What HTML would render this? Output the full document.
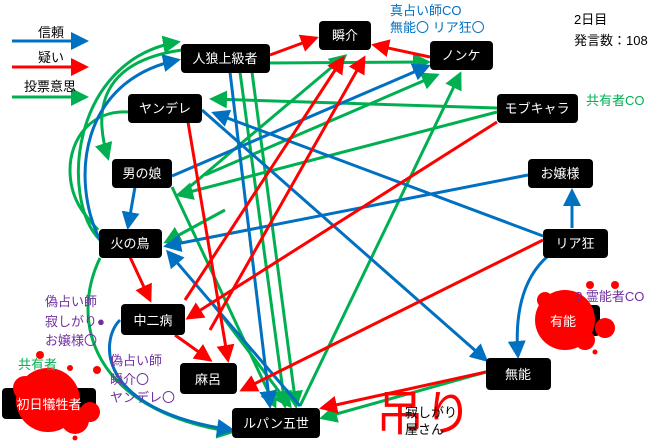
<!DOCTYPE html>
<html><head><meta charset="utf-8"><style>
body{margin:0;width:660px;height:444px;background:#fff;overflow:hidden;font-family:"Liberation Sans","Noto Sans CJK JP",sans-serif}
svg{position:absolute;left:0;top:0}
text{font-family:"Liberation Sans","Noto Sans CJK JP",sans-serif}
</style></head><body>
<svg width="660" height="444" viewBox="0 0 660 444">
<defs>
<marker id="b" markerWidth="6" markerHeight="6" refX="5" refY="3" orient="auto" markerUnits="strokeWidth"><path d="M0,0L6,3L0,6z" fill="#0070c0"/></marker>
<marker id="r" markerWidth="6" markerHeight="6" refX="5" refY="3" orient="auto" markerUnits="strokeWidth"><path d="M0,0L6,3L0,6z" fill="#ff0000"/></marker>
<marker id="g" markerWidth="6" markerHeight="6" refX="5" refY="3" orient="auto" markerUnits="strokeWidth"><path d="M0,0L6,3L0,6z" fill="#00b050"/></marker>
</defs>
<g fill="none" stroke-width="3">
<!-- legend -->
<line x1="12" y1="41" x2="86" y2="41" stroke="#0070c0" marker-end="url(#b)"/>
<line x1="12" y1="67" x2="86" y2="67" stroke="#f00" marker-end="url(#r)"/>
<line x1="12" y1="97" x2="86" y2="97" stroke="#00b050" marker-end="url(#g)"/>
<!-- green -->
<g stroke="#00b050">
<line x1="270" y1="63" x2="428" y2="62" marker-end="url(#g)"/>
<line x1="497" y1="108" x2="212" y2="99" marker-end="url(#g)"/>
<line x1="497" y1="112" x2="178" y2="195" marker-end="url(#g)"/>
<line x1="240" y1="72" x2="285" y2="406" marker-end="url(#g)"/>
<line x1="252" y1="72" x2="296" y2="406" marker-end="url(#g)"/>
<line x1="180" y1="195" x2="345" y2="56" marker-end="url(#g)"/>
<line x1="300" y1="406" x2="460" y2="74" marker-end="url(#g)"/>
<line x1="205" y1="175" x2="437" y2="75" marker-end="url(#g)"/>
<line x1="486" y1="372" x2="322" y2="418" marker-end="url(#g)"/>
<line x1="172" y1="187" x2="275" y2="406" marker-end="url(#g)"/>
<line x1="225" y1="210" x2="166" y2="242" marker-end="url(#g)"/>
<path d="M100,240 C60,200 70,60 178,42" marker-end="url(#g)"/>
<path d="M182,50 C110,60 90,100 108,158" marker-end="url(#g)"/>
<path d="M128,112 C90,110 70,140 70,170 C70,200 85,215 98,230"/>
<path d="M100,258 C70,320 90,410 232,432" marker-end="url(#g)"/>
<line x1="210" y1="300" x2="290" y2="406" marker-end="url(#g)"/>
</g>
<!-- blue -->
<g stroke="#0070c0">
<line x1="230" y1="72" x2="270" y2="406" marker-end="url(#b)"/>
<line x1="172" y1="176" x2="428" y2="66" marker-end="url(#b)"/>
<line x1="202" y1="110" x2="486" y2="360" marker-end="url(#b)"/>
<line x1="543" y1="236" x2="214" y2="113" marker-end="url(#b)"/>
<line x1="528" y1="175" x2="166" y2="246" marker-end="url(#b)"/>
<line x1="572" y1="228" x2="572" y2="191" marker-end="url(#b)"/>
<path d="M548,256 C520,280 515,320 518,356" marker-end="url(#b)"/>
<line x1="135" y1="187" x2="128" y2="227" marker-end="url(#b)"/>
<path d="M100,240 C70,180 80,80 178,60" marker-end="url(#b)"/>
<path d="M120,320 C100,340 95,410 232,430" marker-end="url(#b)"/>
<line x1="300" y1="406" x2="168" y2="252" marker-end="url(#b)"/>
</g>
<!-- red -->
<g stroke="#f00">
<line x1="270" y1="55" x2="316" y2="38" marker-end="url(#r)"/>
<line x1="430" y1="57" x2="374" y2="45" marker-end="url(#r)"/>
<line x1="188" y1="122" x2="228" y2="360" marker-end="url(#r)"/>
<line x1="185" y1="300" x2="343" y2="58" marker-end="url(#r)"/>
<line x1="210" y1="330" x2="364" y2="58" marker-end="url(#r)"/>
<line x1="497" y1="122" x2="188" y2="318" marker-end="url(#r)"/>
<line x1="543" y1="240" x2="242" y2="390" marker-end="url(#r)"/>
<line x1="130" y1="257" x2="150" y2="300" marker-end="url(#r)"/>
<line x1="175" y1="335" x2="210" y2="360" marker-end="url(#r)"/>
<line x1="486" y1="372" x2="322" y2="408" marker-end="url(#r)"/>
</g>
</g>
<!-- nodes -->
<g fill="#000">
<rect x="181" y="44" width="89" height="29" rx="4"/>
<rect x="319" y="21" width="52" height="29" rx="4"/>
<rect x="430" y="41" width="63" height="29" rx="4"/>
<rect x="128" y="94" width="74" height="29" rx="4"/>
<rect x="497" y="94" width="81" height="29" rx="4"/>
<rect x="112" y="159" width="60" height="29" rx="4"/>
<rect x="528" y="159" width="65" height="29" rx="4"/>
<rect x="99" y="229" width="63" height="29" rx="4"/>
<rect x="543" y="229" width="65" height="29" rx="4"/>
<rect x="121" y="304" width="64" height="31" rx="4"/>
<rect x="180" y="363" width="57" height="31" rx="4"/>
<rect x="486" y="358" width="65" height="32" rx="4"/>
<rect x="232" y="408" width="88" height="30" rx="4"/>
<rect x="2" y="388" width="94" height="31" rx="4"/>
<rect x="540" y="305" width="60" height="31" rx="4"/>
</g>
<!-- blood -->
<g fill="#f00">
<circle cx="565" cy="320" r="30"/><circle cx="545" cy="300" r="8"/><circle cx="585" cy="340" r="10"/><circle cx="605" cy="328" r="10"/><circle cx="590" cy="285" r="4"/><circle cx="615" cy="285" r="4"/><circle cx="595" cy="352" r="2.5"/>
<circle cx="48" cy="400" r="32"/><circle cx="25" cy="388" r="12"/><circle cx="75" cy="420" r="14"/><circle cx="90" cy="412" r="10"/><circle cx="40" cy="355" r="4"/><circle cx="70" cy="368" r="3"/><circle cx="97" cy="370" r="4"/><circle cx="75" cy="438" r="2.5"/>
</g>
<g font-size="13" fill="#fff" text-anchor="middle">
<text x="225" y="63">人狼上級者</text>
<text x="345" y="40">瞬介</text>
<text x="461" y="60">ノンケ</text>
<text x="165" y="113">ヤンデレ</text>
<text x="537" y="113">モブキャラ</text>
<text x="142" y="178">男の娘</text>
<text x="560" y="178">お嬢様</text>
<text x="130" y="248">火の鳥</text>
<text x="575" y="248">リア狂</text>
<text x="153" y="325">中二病</text>
<text x="208" y="384">麻呂</text>
<text x="518" y="379">無能</text>
<text x="276" y="428">ルパン五世</text>
<text x="49" y="409">初日犠牲者</text>
<text x="563" y="326">有能</text>
</g>
<g font-size="13">
<text x="38" y="37" fill="#000">信頼</text>
<text x="38" y="62" fill="#000">疑い</text>
<text x="24" y="91" fill="#000">投票意思</text>
<text x="574" y="24" fill="#000">2日目</text>
<text x="574" y="45" fill="#000">発言数：108</text>
<text x="390" y="15" fill="#0070c0">真占い師CO</text>
<text x="390" y="32" fill="#0070c0">無能〇 リア狂〇</text>
<text x="586" y="105" fill="#00b050">共有者CO</text>
<text x="575" y="301" fill="#7030a0">? 霊能者CO</text>
<text x="45" y="306" fill="#7030a0">偽占い師</text>
<text x="45" y="326" fill="#7030a0">寂しがり●</text>
<text x="45" y="345" fill="#7030a0">お嬢様〇</text>
<text x="110" y="365" fill="#7030a0">偽占い師</text>
<text x="110" y="384" fill="#7030a0">瞬介〇</text>
<text x="110" y="402" fill="#7030a0">ヤンデレ〇</text>
<text x="18" y="369" fill="#00b050">共有者</text>
</g>
<text x="376" y="430" font-size="48" fill="#f00">吊り</text>
<text x="405" y="417" font-size="13" fill="#000">寂しがり</text>
<text x="405" y="434" font-size="13" fill="#000">屋さん</text>
</svg>
</body></html>
